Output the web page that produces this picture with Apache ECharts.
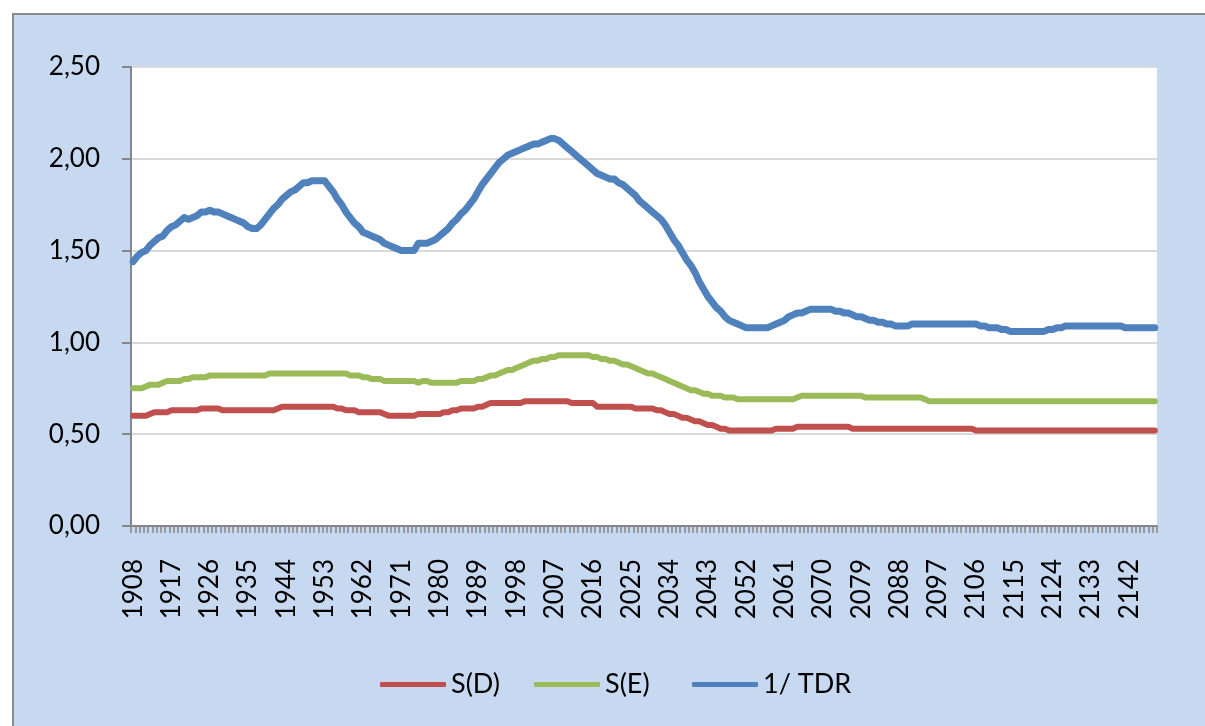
<!DOCTYPE html>
<html>
  <head>
    <meta charset="utf-8" />
    <title>S(D), S(E), 1/TDR</title>
    <style>
      * {
        margin: 0;
        padding: 0;
      }
      body {
        background: #fff;
      }
      #chart-container {
        width: 1205px;
        height: 726px;
        overflow: hidden;
      }
    </style>
  </head>
  <body>
    <div id="chart-container"></div>
    <script src="https://cdn.jsdelivr.net/npm/echarts@6/dist/echarts.min.js"></script>
    <script>
      // years 1908 .. 2148, one value per year
      var firstYear = 1908;
      var lastYear = 2148;

      var sD = [
        0.60, 0.60, 0.60, 0.60, 0.61, 0.62, 0.62, 0.62, 0.62, 0.63,
        0.63, 0.63, 0.63, 0.63, 0.63, 0.63, 0.64, 0.64, 0.64, 0.64,
        0.64, 0.63, 0.63, 0.63, 0.63, 0.63, 0.63, 0.63, 0.63, 0.63,
        0.63, 0.63, 0.63, 0.63, 0.64, 0.65, 0.65, 0.65, 0.65, 0.65,
        0.65, 0.65, 0.65, 0.65, 0.65, 0.65, 0.65, 0.65, 0.64, 0.64,
        0.63, 0.63, 0.63, 0.62, 0.62, 0.62, 0.62, 0.62, 0.62, 0.61,
        0.60, 0.60, 0.60, 0.60, 0.60, 0.60, 0.60, 0.61, 0.61, 0.61,
        0.61, 0.61, 0.61, 0.62, 0.62, 0.63, 0.63, 0.64, 0.64, 0.64,
        0.64, 0.65, 0.65, 0.66, 0.67, 0.67, 0.67, 0.67, 0.67, 0.67,
        0.67, 0.67, 0.68, 0.68, 0.68, 0.68, 0.68, 0.68, 0.68, 0.68,
        0.68, 0.68, 0.68, 0.67, 0.67, 0.67, 0.67, 0.67, 0.67, 0.65,
        0.65, 0.65, 0.65, 0.65, 0.65, 0.65, 0.65, 0.65, 0.64, 0.64,
        0.64, 0.64, 0.64, 0.63, 0.63, 0.62, 0.61, 0.61, 0.60, 0.59,
        0.59, 0.58, 0.57, 0.57, 0.56, 0.55, 0.55, 0.54, 0.53, 0.53,
        0.52, 0.52, 0.52, 0.52, 0.52, 0.52, 0.52, 0.52, 0.52, 0.52,
        0.52, 0.53, 0.53, 0.53, 0.53, 0.53, 0.54, 0.54, 0.54, 0.54,
        0.54, 0.54, 0.54, 0.54, 0.54, 0.54, 0.54, 0.54, 0.54, 0.53,
        0.53, 0.53, 0.53, 0.53, 0.53, 0.53, 0.53, 0.53, 0.53, 0.53,
        0.53, 0.53, 0.53, 0.53, 0.53, 0.53, 0.53, 0.53, 0.53, 0.53,
        0.53, 0.53, 0.53, 0.53, 0.53, 0.53, 0.53, 0.53, 0.52, 0.52,
        0.52, 0.52, 0.52, 0.52, 0.52, 0.52, 0.52, 0.52, 0.52, 0.52,
        0.52, 0.52, 0.52, 0.52, 0.52, 0.52, 0.52, 0.52, 0.52, 0.52,
        0.52, 0.52, 0.52, 0.52, 0.52, 0.52, 0.52, 0.52, 0.52, 0.52,
        0.52, 0.52, 0.52, 0.52, 0.52, 0.52, 0.52, 0.52, 0.52, 0.52,
        0.52
      ];

      var sE = [
        0.75, 0.75, 0.75, 0.76, 0.77, 0.77, 0.77, 0.78, 0.79, 0.79,
        0.79, 0.79, 0.80, 0.80, 0.81, 0.81, 0.81, 0.81, 0.82, 0.82,
        0.82, 0.82, 0.82, 0.82, 0.82, 0.82, 0.82, 0.82, 0.82, 0.82,
        0.82, 0.82, 0.83, 0.83, 0.83, 0.83, 0.83, 0.83, 0.83, 0.83,
        0.83, 0.83, 0.83, 0.83, 0.83, 0.83, 0.83, 0.83, 0.83, 0.83,
        0.83, 0.82, 0.82, 0.82, 0.81, 0.81, 0.80, 0.80, 0.80, 0.79,
        0.79, 0.79, 0.79, 0.79, 0.79, 0.79, 0.79, 0.78, 0.79, 0.79,
        0.78, 0.78, 0.78, 0.78, 0.78, 0.78, 0.78, 0.79, 0.79, 0.79,
        0.79, 0.80, 0.80, 0.81, 0.82, 0.82, 0.83, 0.84, 0.85, 0.85,
        0.86, 0.87, 0.88, 0.89, 0.90, 0.90, 0.91, 0.91, 0.92, 0.92,
        0.93, 0.93, 0.93, 0.93, 0.93, 0.93, 0.93, 0.93, 0.92, 0.92,
        0.91, 0.91, 0.90, 0.90, 0.89, 0.88, 0.88, 0.87, 0.86, 0.85,
        0.84, 0.83, 0.83, 0.82, 0.81, 0.80, 0.79, 0.78, 0.77, 0.76,
        0.75, 0.74, 0.74, 0.73, 0.72, 0.72, 0.71, 0.71, 0.71, 0.70,
        0.70, 0.70, 0.69, 0.69, 0.69, 0.69, 0.69, 0.69, 0.69, 0.69,
        0.69, 0.69, 0.69, 0.69, 0.69, 0.69, 0.70, 0.71, 0.71, 0.71,
        0.71, 0.71, 0.71, 0.71, 0.71, 0.71, 0.71, 0.71, 0.71, 0.71,
        0.71, 0.71, 0.70, 0.70, 0.70, 0.70, 0.70, 0.70, 0.70, 0.70,
        0.70, 0.70, 0.70, 0.70, 0.70, 0.70, 0.69, 0.68, 0.68, 0.68,
        0.68, 0.68, 0.68, 0.68, 0.68, 0.68, 0.68, 0.68, 0.68, 0.68,
        0.68, 0.68, 0.68, 0.68, 0.68, 0.68, 0.68, 0.68, 0.68, 0.68,
        0.68, 0.68, 0.68, 0.68, 0.68, 0.68, 0.68, 0.68, 0.68, 0.68,
        0.68, 0.68, 0.68, 0.68, 0.68, 0.68, 0.68, 0.68, 0.68, 0.68,
        0.68, 0.68, 0.68, 0.68, 0.68, 0.68, 0.68, 0.68, 0.68, 0.68,
        0.68
      ];

      var invTDR = [
        1.44, 1.47, 1.49, 1.50, 1.53, 1.55, 1.57, 1.58, 1.61, 1.63,
        1.64, 1.66, 1.68, 1.67, 1.68, 1.69, 1.71, 1.71, 1.72, 1.71,
        1.71, 1.70, 1.69, 1.68, 1.67, 1.66, 1.65, 1.63, 1.62, 1.62,
        1.64, 1.67, 1.70, 1.73, 1.75, 1.78, 1.80, 1.82, 1.83, 1.85,
        1.87, 1.87, 1.88, 1.88, 1.88, 1.88, 1.85, 1.82, 1.78, 1.75,
        1.71, 1.68, 1.65, 1.63, 1.60, 1.59, 1.58, 1.57, 1.56, 1.54,
        1.53, 1.52, 1.51, 1.50, 1.50, 1.50, 1.50, 1.54, 1.54, 1.54,
        1.55, 1.56, 1.58, 1.60, 1.62, 1.65, 1.67, 1.70, 1.72, 1.75,
        1.78, 1.82, 1.86, 1.89, 1.92, 1.95, 1.98, 2.00, 2.02, 2.03,
        2.04, 2.05, 2.06, 2.07, 2.08, 2.08, 2.09, 2.10, 2.11, 2.11,
        2.10, 2.08, 2.06, 2.04, 2.02, 2.00, 1.98, 1.96, 1.94, 1.92,
        1.91, 1.90, 1.89, 1.89, 1.87, 1.86, 1.84, 1.82, 1.80, 1.77,
        1.75, 1.73, 1.71, 1.69, 1.67, 1.64, 1.60, 1.56, 1.53, 1.49,
        1.45, 1.42, 1.38, 1.33, 1.29, 1.25, 1.22, 1.19, 1.17, 1.14,
        1.12, 1.11, 1.10, 1.09, 1.08, 1.08, 1.08, 1.08, 1.08, 1.08,
        1.09, 1.10, 1.11, 1.12, 1.14, 1.15, 1.16, 1.16, 1.17, 1.18,
        1.18, 1.18, 1.18, 1.18, 1.18, 1.17, 1.17, 1.16, 1.16, 1.15,
        1.14, 1.14, 1.13, 1.12, 1.12, 1.11, 1.11, 1.10, 1.10, 1.09,
        1.09, 1.09, 1.09, 1.10, 1.10, 1.10, 1.10, 1.10, 1.10, 1.10,
        1.10, 1.10, 1.10, 1.10, 1.10, 1.10, 1.10, 1.10, 1.10, 1.09,
        1.09, 1.08, 1.08, 1.08, 1.07, 1.07, 1.06, 1.06, 1.06, 1.06,
        1.06, 1.06, 1.06, 1.06, 1.06, 1.07, 1.07, 1.08, 1.08, 1.09,
        1.09, 1.09, 1.09, 1.09, 1.09, 1.09, 1.09, 1.09, 1.09, 1.09,
        1.09, 1.09, 1.09, 1.08, 1.08, 1.08, 1.08, 1.08, 1.08, 1.08,
        1.08
      ];

      var years = [];
      for (var y = firstYear; y <= lastYear; y++) {
        years.push(String(y));
      }

      var font = "Lato";
      var axisGrey = "#868686";

      var dom = document.getElementById("chart-container");
      var myChart = echarts.init(dom, null, { renderer: "canvas" });

      function legendAt(name, left) {
        return {
          data: [name],
          left: left,
          top: 666,
          icon: "roundRect",
          itemWidth: 66,
          itemHeight: 5,
          selectedMode: false,
          textStyle: { fontFamily: font, fontSize: 27, color: "#000" },
        };
      }

      var option = {
        animation: false,
        graphic: [
          {
            type: "rect",
            z: -10,
            silent: true,
            shape: { x: 13, y: 14, width: 1300, height: 800 },
            style: { fill: "#c6d9f1", stroke: "#8b8b8b", lineWidth: 2 },
          },
        ],
        grid: {
          left: 131,
          top: 67,
          width: 1026,
          height: 459,
          show: true,
          backgroundColor: "#fff",
          borderWidth: 0,
        },
        legend: [
          legendAt("S(D)", 375),
          legendAt("S(E)", 529),
          legendAt("1/ TDR", 687),
        ],
        xAxis: {
          type: "category",
          data: years,
          boundaryGap: true,
          axisLine: { show: true, lineStyle: { color: axisGrey, width: 2 } },
          axisTick: {
            show: true,
            interval: 0,
            length: 7,
            lineStyle: { color: axisGrey, width: 1.5 },
          },
          axisLabel: {
            interval: 8,
            rotate: 90,
            margin: 33,
            fontFamily: font,
            fontSize: 26,
            color: "#000",
          },
          splitLine: { show: false },
        },
        yAxis: {
          type: "value",
          min: 0,
          max: 2.5,
          interval: 0.5,
          axisLine: { show: true, lineStyle: { color: axisGrey, width: 2 } },
          axisTick: {
            show: true,
            length: 9,
            lineStyle: { color: axisGrey, width: 2 },
          },
          axisLabel: {
            margin: 31,
            fontFamily: font,
            fontSize: 26,
            color: "#000",
            formatter: function (v) {
              return v.toFixed(2).replace(".", ",");
            },
          },
          splitLine: { lineStyle: { color: "#d9d9d9", width: 2 } },
        },
        series: [
          {
            name: "S(D)",
            type: "line",
            data: sD,
            symbol: "none",
            color: "#c0504d",
            lineStyle: { width: 6, color: "#c0504d", cap: "round", join: "round" },
          },
          {
            name: "S(E)",
            type: "line",
            data: sE,
            symbol: "none",
            color: "#9bbb59",
            lineStyle: { width: 6, color: "#9bbb59", cap: "round", join: "round" },
          },
          {
            name: "1/ TDR",
            type: "line",
            data: invTDR,
            symbol: "none",
            color: "#4f81bd",
            lineStyle: { width: 7, color: "#4f81bd", cap: "round", join: "round" },
          },
        ],
      };

      myChart.setOption(option);
    </script>
  </body>
</html>
